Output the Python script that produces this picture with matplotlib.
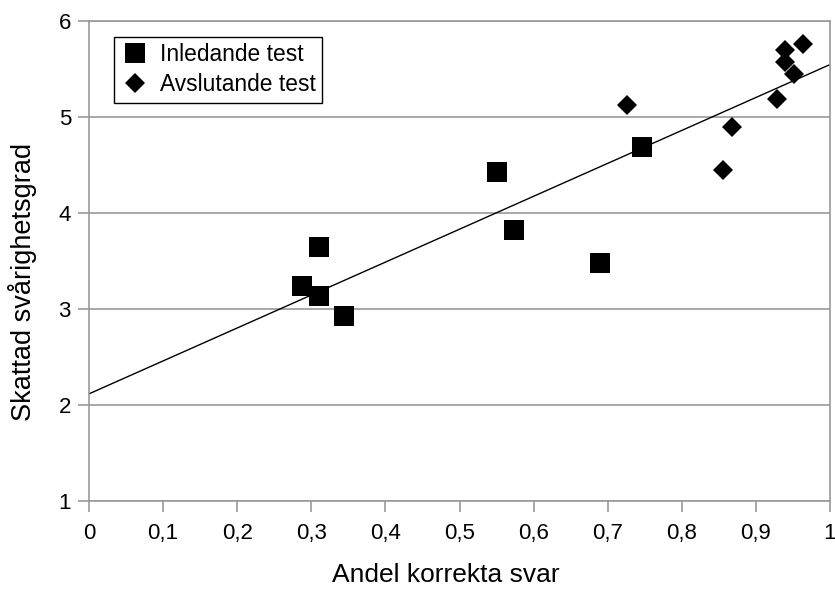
import numpy as np
import matplotlib.pyplot as plt

# Andel korrekta svar / skattad svårighetsgrad
inl_x = [0.287, 0.310, 0.310, 0.344, 0.551, 0.574, 0.689, 0.746]
inl_y = [3.235, 3.65, 3.14, 2.93, 4.43, 3.82, 3.48, 4.69]
avs_x = [0.726, 0.856, 0.868, 0.928, 0.939, 0.939, 0.951, 0.963]
avs_y = [5.12, 4.45, 4.89, 5.18, 5.70, 5.57, 5.45, 5.76]

xticks = np.round(np.arange(0, 1.01, 0.1), 1)
xticklabels = ["0" if t == 0 else ("1" if t == 1 else f"{t:.1f}".replace(".", ",")) for t in xticks]

plt.rcParams["font.family"] = ["Liberation Sans", "DejaVu Sans"]

fig = plt.figure(figsize=(8.35, 5.91), dpi=100)
ax = fig.add_axes([0.1066, 0.152, 0.8874, 0.813])

# trendline over all points
all_x = np.array(inl_x + avs_x)
all_y = np.array(inl_y + avs_y)
k, m = np.polyfit(all_x, all_y, 1)
lx = np.array([0, 1])
ax.plot(lx, k * lx + m, color="black", lw=1, zorder=2)

ax.plot(inl_x, inl_y, "s", color="black", ms=14.2, mew=0, label="Inledande test", zorder=3)
ax.plot(avs_x, avs_y, "D", color="black", ms=10, mew=0, label="Avslutande test", zorder=3)

ax.set_xlim(0, 1)
ax.set_ylim(1, 6)
ax.set_xticks(xticks)
ax.set_xticklabels(xticklabels)
ax.set_yticks(range(1, 7))
ax.yaxis.grid(True, color="#999999", lw=1.2)
ax.set_axisbelow(True)
for s in ax.spines.values():
    s.set_color("#999999")
    s.set_linewidth(1.2)
ax.tick_params(axis="both", colors="#999999", labelcolor="black", length=8, width=1.2,
               labelsize=16)
ax.tick_params(axis="x", pad=8)
ax.tick_params(axis="y", pad=5)

ax.set_xlabel("Andel korrekta svar", fontsize=19)
ax.set_ylabel("Skattad svårighetsgrad", fontsize=19.5)
ax.xaxis.set_label_coords(0.481, -0.128)
ax.yaxis.set_label_coords(-0.070, 0.456)

leg = ax.legend(loc="upper left", bbox_to_anchor=(0.034, 0.967),
                frameon=True, fancybox=False, edgecolor="black", framealpha=1,
                handletextpad=0.5, borderpad=0.3, labelspacing=0.3, handlelength=1.2,
                borderaxespad=0, prop={"family": "Liberation Sans", "size": 16.4})
leg.get_frame().set_linewidth(1)

fig.savefig("out.png", dpi=100)
